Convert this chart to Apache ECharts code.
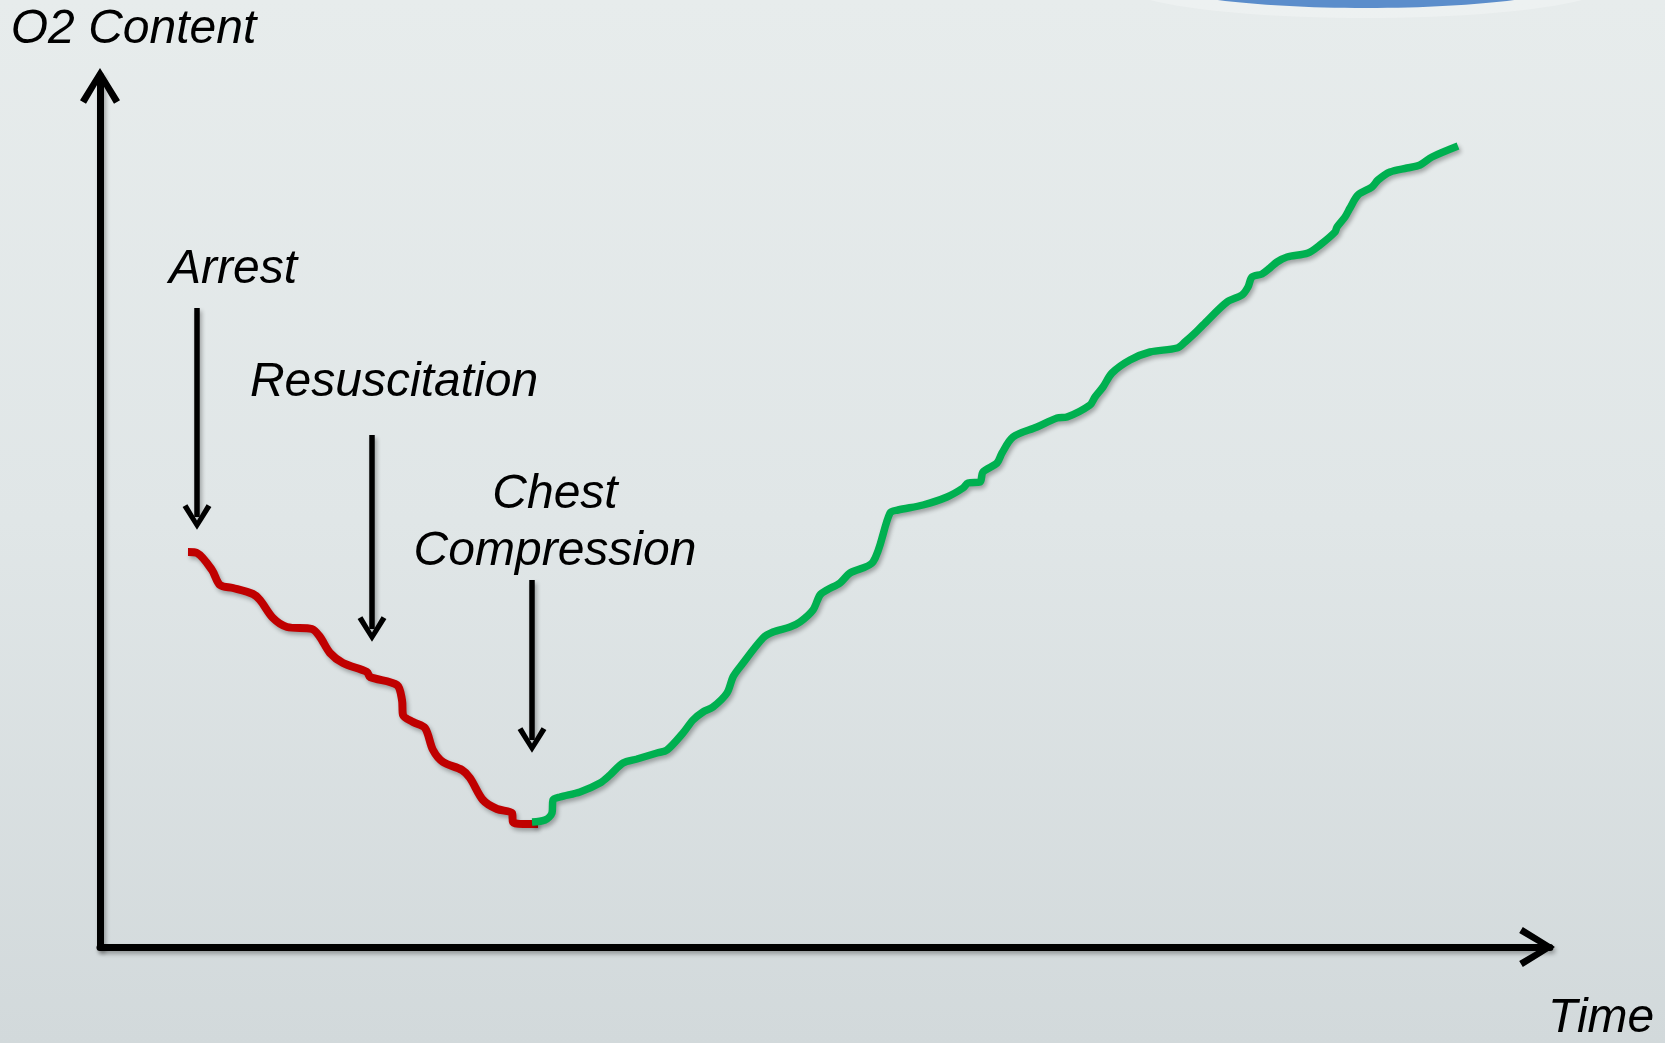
<!DOCTYPE html>
<html>
<head>
<meta charset="utf-8">
<title>O2 Content</title>
<script src="https://cdn.jsdelivr.net/npm/echarts@6/dist/echarts.min.js"></script>
<style>
html, body { margin: 0; padding: 0; overflow: hidden; }
#main {
  width: 1665px;
  height: 1043px;
  background: linear-gradient(to bottom, #e7ecec 0%, #e0e6e7 50%, #d2d9db 100%);
}
</style>
</head>
<body>
<div id="main"></div>
<script>
// values, arbitrary units (0 at the axes)
const arrestTime = [8.8, 9.7, 11.2, 12.0, 13.3, 15.3, 16.0, 17.3, 18.7, 21.2, 22.0, 23.0, 24.3, 26.7, 27.0, 29.7, 30.2, 30.3, 31.3, 32.5, 33.3, 34.3, 36.2, 37.0, 38.3, 39.7, 41.2, 41.3, 42.3, 43.8]
const arrestO2 = [39.5, 39.4, 37.7, 36.2, 35.9, 35.3, 34.7, 32.9, 32.0, 31.8, 31.0, 29.4, 28.4, 27.5, 27.0, 26.2, 24.7, 23.2, 22.5, 21.9, 19.7, 18.5, 17.7, 16.9, 14.7, 13.8, 13.4, 12.5, 12.3, 12.3]

const compressionTime = [43.2, 44.5, 45.2, 45.3, 46.0, 48.0, 50.0, 51.0, 52.3, 53.7, 55.7, 56.7, 58.3, 59.3, 60.3, 61.3, 62.7, 63.3, 64.0, 66.3, 67.3, 69.0, 70.0, 71.3, 72.0, 72.7, 74.0, 75.0, 77.3, 79.0, 79.8, 82.3, 84.7, 86.3, 86.8, 88.0, 88.3, 89.7, 90.2, 91.3, 93.7, 95.7, 96.7, 99.0, 99.5, 100.3, 101.2, 103.0, 105.0, 107.7, 108.5, 109.5, 110.3, 112.7, 114.2, 114.8, 115.2, 116.2, 117.0, 117.7, 118.7, 120.8, 122.0, 123.5, 123.7, 124.5, 125.0, 125.8, 127.2, 127.8, 129.0, 130.7, 132.0, 133.2, 135.8]
const compressionO2 = [12.5, 12.7, 13.4, 14.7, 15.0, 15.5, 16.4, 17.2, 18.4, 18.8, 19.4, 19.7, 21.4, 22.7, 23.5, 24.0, 25.4, 27.0, 28.0, 30.9, 31.5, 32.0, 32.5, 33.7, 35.2, 35.7, 36.4, 37.4, 38.5, 43.4, 43.7, 44.2, 45.0, 45.9, 46.4, 46.5, 47.5, 48.4, 49.4, 51.0, 52.0, 52.9, 53.0, 54.2, 55.0, 56.0, 57.4, 58.7, 59.5, 59.9, 60.5, 61.4, 62.2, 64.5, 65.2, 66.0, 67.0, 67.3, 67.9, 68.5, 69.0, 69.4, 70.2, 71.5, 72.0, 73.0, 73.9, 75.2, 76.0, 76.7, 77.5, 77.9, 78.2, 79.0, 80.1]

// events: arrow from/to in O2 units, label centre
const eventNames = ['Arrest', 'Resuscitation', 'Chest\nCompression']
const eventTime = [9.7, 27.2, 43.2]
const arrowFrom = [63.9, 51.2, 36.7]
const arrowTo = [43.0, 31.8, 20.7]
const labelTime = [13.3, 29.4, 45.5]
const labelO2 = [67.7, 56.4, 42.4]

const font = 'Liberation Sans, Arial, sans-serif'
const axisArrow = 'path://M20 0L40 32.2L34 35.8L20 11.9L6 35.8L0 32.2Z'
const pointer = 'path://M14.4 0L28.8 22.6L24 25.4L14.4 9.3L4.8 25.4L0 22.6Z'
const shadow = {
  shadowColor: 'rgba(0,0,0,0.3)',
  shadowBlur: 4,
  shadowOffsetX: 2,
  shadowOffsetY: 3
}

const chart = echarts.init(document.getElementById('main'))

const zip = (xs, ys) => xs.map((x, i) => [x, ys[i]])

const option = {
  animation: false,
  grid: {
    left: 100,
    right: 115,
    top: 76,
    bottom: 96,
    containLabel: false,
    outerBoundsMode: 'none'
  },
  graphic: [
    {
      type: 'ellipse',
      z: -10,
      shape: { cx: 1366, cy: -16, rx: 245, ry: 34 },
      style: { fill: 'rgba(255,255,255,0.25)' }
    },
    {
      type: 'ellipse',
      z: -9,
      shape: { cx: 1366, cy: -21, rx: 215, ry: 29 },
      style: { fill: '#5b8dcb' }
    }
  ],
  xAxis: {
    type: 'value',
    min: 0,
    max: 145,
    name: 'Time',
    nameLocation: 'end',
    nameGap: -2,
    nameTextStyle: {
      fontFamily: font,
      fontStyle: 'italic',
      fontSize: 48,
      lineHeight: 143,
      color: '#000',
      align: 'left',
      verticalAlign: 'top'
    },
    axisLine: {
      show: true,
      symbol: ['none', axisArrow],
      symbolSize: [40, 35.8],
      symbolOffset: [0, -12.9],
      lineStyle: Object.assign({ color: '#000', width: 7 }, shadow)
    },
    axisTick: { show: false },
    axisLabel: { show: false },
    splitLine: { show: false }
  },
  yAxis: {
    type: 'value',
    min: 0,
    max: 87.1,
    name: 'O2 Content',
    nameLocation: 'end',
    nameGap: 46,
    nameTextStyle: {
      fontFamily: font,
      fontStyle: 'italic',
      fontSize: 48,
      color: '#000',
      align: 'center',
      verticalAlign: 'middle',
      padding: [0, 0, 0, 67]
    },
    axisLine: {
      show: true,
      symbol: ['none', axisArrow],
      symbolSize: [40, 35.8],
      symbolOffset: [0, -9.9],
      lineStyle: Object.assign({ color: '#000', width: 7 }, shadow)
    },
    axisTick: { show: false },
    axisLabel: { show: false },
    splitLine: { show: false }
  },
  series: [
    {
      name: 'Arrest',
      type: 'line',
      data: zip(arrestTime, arrestO2),
      smooth: 0.3,
      showSymbol: false,
      lineStyle: Object.assign({ color: '#c00000', width: 8 }, shadow),
      markLine: {
        silent: true,
        symbol: ['none', pointer],
        symbolSize: [28.8, 25.4],
        label: { show: false },
        lineStyle: Object.assign({ color: '#000', width: 5.5, type: 'solid' }, shadow),
        data: eventTime.map((t, i) => [
          { coord: [t, arrowFrom[i]] },
          { coord: [t, arrowTo[i]] }
        ])
      }
    },
    {
      name: 'Chest Compression',
      type: 'line',
      data: zip(compressionTime, compressionO2),
      smooth: 0.3,
      showSymbol: false,
      lineStyle: Object.assign({ color: '#00b050', width: 7.5 }, shadow)
    },
    {
      name: 'events',
      type: 'scatter',
      symbolSize: 0,
      silent: true,
      itemStyle: { opacity: 1 },
      data: eventNames.map((n, i) => ({ name: n, value: [labelTime[i], labelO2[i]] })),
      label: {
        show: true,
        position: 'inside',
        formatter: '{b}',
        fontFamily: font,
        fontStyle: 'italic',
        fontSize: 48,
        lineHeight: 57,
        color: '#000',
        opacity: 1,
        align: 'center',
        verticalAlign: 'middle'
      }
    }
  ]
}

chart.setOption(option)
</script>
</body>
</html>
